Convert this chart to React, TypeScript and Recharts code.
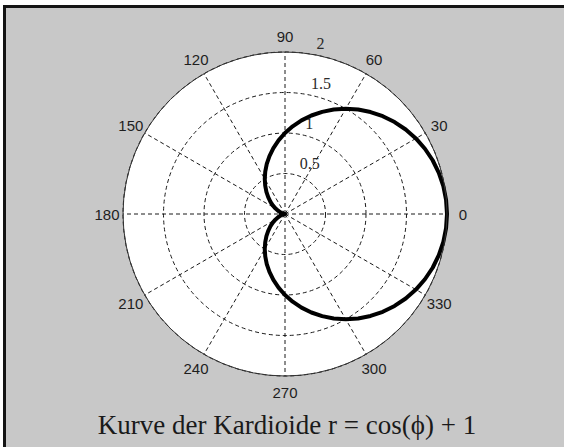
import React from "react";
import {
  RadarChart,
  Radar,
  PolarGrid,
  PolarAngleAxis,
  PolarRadiusAxis,
} from "recharts";

if (typeof document !== "undefined") document.body.style.margin = "0";

// sample angles in degrees (every 5°) and the cardioid radius at each
const angles = [
  0, 5, 10, 15, 20, 25, 30, 35, 40, 45, 50, 55, 60, 65, 70, 75, 80, 85, 90, 95,
  100, 105, 110, 115, 120, 125, 130, 135, 140, 145, 150, 155, 160, 165, 170, 175,
  180, 185, 190, 195, 200, 205, 210, 215, 220, 225, 230, 235, 240, 245, 250, 255,
  260, 265, 270, 275, 280, 285, 290, 295, 300, 305, 310, 315, 320, 325, 330, 335,
  340, 345, 350, 355,
];
const radii = [
  2.0, 1.996, 1.985, 1.966, 1.94, 1.906, 1.866, 1.819, 1.766, 1.707, 1.643, 1.574,
  1.5, 1.423, 1.342, 1.259, 1.174, 1.087, 1.0, 0.913, 0.826, 0.741, 0.658, 0.577,
  0.5, 0.426, 0.357, 0.293, 0.234, 0.181, 0.134, 0.094, 0.06, 0.034, 0.015, 0.004,
  0.0, 0.004, 0.015, 0.034, 0.06, 0.094, 0.134, 0.181, 0.234, 0.293, 0.357, 0.426,
  0.5, 0.577, 0.658, 0.741, 0.826, 0.913, 1.0, 1.087, 1.174, 1.259, 1.342, 1.423,
  1.5, 1.574, 1.643, 1.707, 1.766, 1.819, 1.866, 1.906, 1.94, 1.966, 1.985, 1.996,
];
const angleTicks = [0, 30, 60, 90, 120, 150, 180, 210, 240, 270, 300, 330];
const radiusTicks = [0.5, 1, 1.5, 2];

const data = angles.map((a, i) => ({ angle: a, r: radii[i] }));

const W = 564;
const H = 447;
const CX = 285;
const CY = 214;
const R = 162;

const AngleTick = (props: any) => {
  const { x, y, payload } = props;
  return (
    <text
      x={x}
      y={y}
      textAnchor="middle"
      dominantBaseline="central"
      fill="#1e1e1e"
      fontSize={15}
      fontFamily="'Liberation Sans', Arial, sans-serif"
    >
      {payload.value}
    </text>
  );
};

const RadiusTick = (props: any) => {
  const { x, y, payload } = props;
  return (
    <text
      x={x + 9}
      y={y - 10}
      textAnchor="start"
      dominantBaseline="central"
      fill="#2a2a2a"
      fontSize={16}
      fontFamily="'Liberation Serif', 'Times New Roman', serif"
    >
      {payload.value}
    </text>
  );
};

export default function App() {
  return (
    <div style={{ position: "relative", width: W, height: H, background: "#fff", overflow: "hidden" }}>
      <div
        style={{
          position: "absolute",
          left: 3,
          top: 5,
          right: 0,
          bottom: 0,
          background: "#c8c8c8",
          borderTop: "3px solid #141414",
          borderLeft: "3px solid #141414",
        }}
      />
      {/* white plot disc */}
      <div
        style={{
          position: "absolute",
          left: CX - R,
          top: CY - R,
          width: 2 * R,
          height: 2 * R,
          borderRadius: "50%",
          background: "#fff",
        }}
      />
      <div style={{ position: "absolute", left: 0, top: 0 }}>
        <RadarChart
          width={W}
          height={H}
          data={data}
          cx={CX}
          cy={CY}
          outerRadius={R}
          startAngle={0}
          endAngle={360}
          margin={{ top: 0, right: 0, bottom: 0, left: 0 }}
        >
          <PolarGrid
            gridType="circle"
            stroke="#1a1a1a"
            strokeDasharray="4 3"
          />
          <PolarAngleAxis
            dataKey="angle"
            type="number"
            domain={[0, 360]}
            ticks={angleTicks}
            tickSize={16}
            tickLine={false}
            axisLineType="circle"
            axisLine={{ stroke: "#333", strokeWidth: 1 }}
            tick={<AngleTick />}
          />
          <PolarRadiusAxis
            angle={82}
            domain={[0, 2]}
            ticks={radiusTicks}
            type="number"
            axisLine={false}
            tickLine={false}
            tick={<RadiusTick />}
          />
          <Radar
            dataKey="r"
            stroke="#000"
            strokeWidth={4}
            strokeLinejoin="round"
            fill="none"
            fillOpacity={0}
            dot={false}
            isAnimationActive={false}
          />
        </RadarChart>
      </div>
      <div
        style={{
          position: "absolute",
          left: 0,
          width: 574,
          top: 408,
          textAlign: "center",
          fontFamily: "'Liberation Serif', 'Times New Roman', serif",
          fontSize: 27,
          lineHeight: "34px",
          color: "#1a1a1a",
        }}
      >
        Kurve der Kardioide r = cos(ϕ) + 1
      </div>
    </div>
  );
}
